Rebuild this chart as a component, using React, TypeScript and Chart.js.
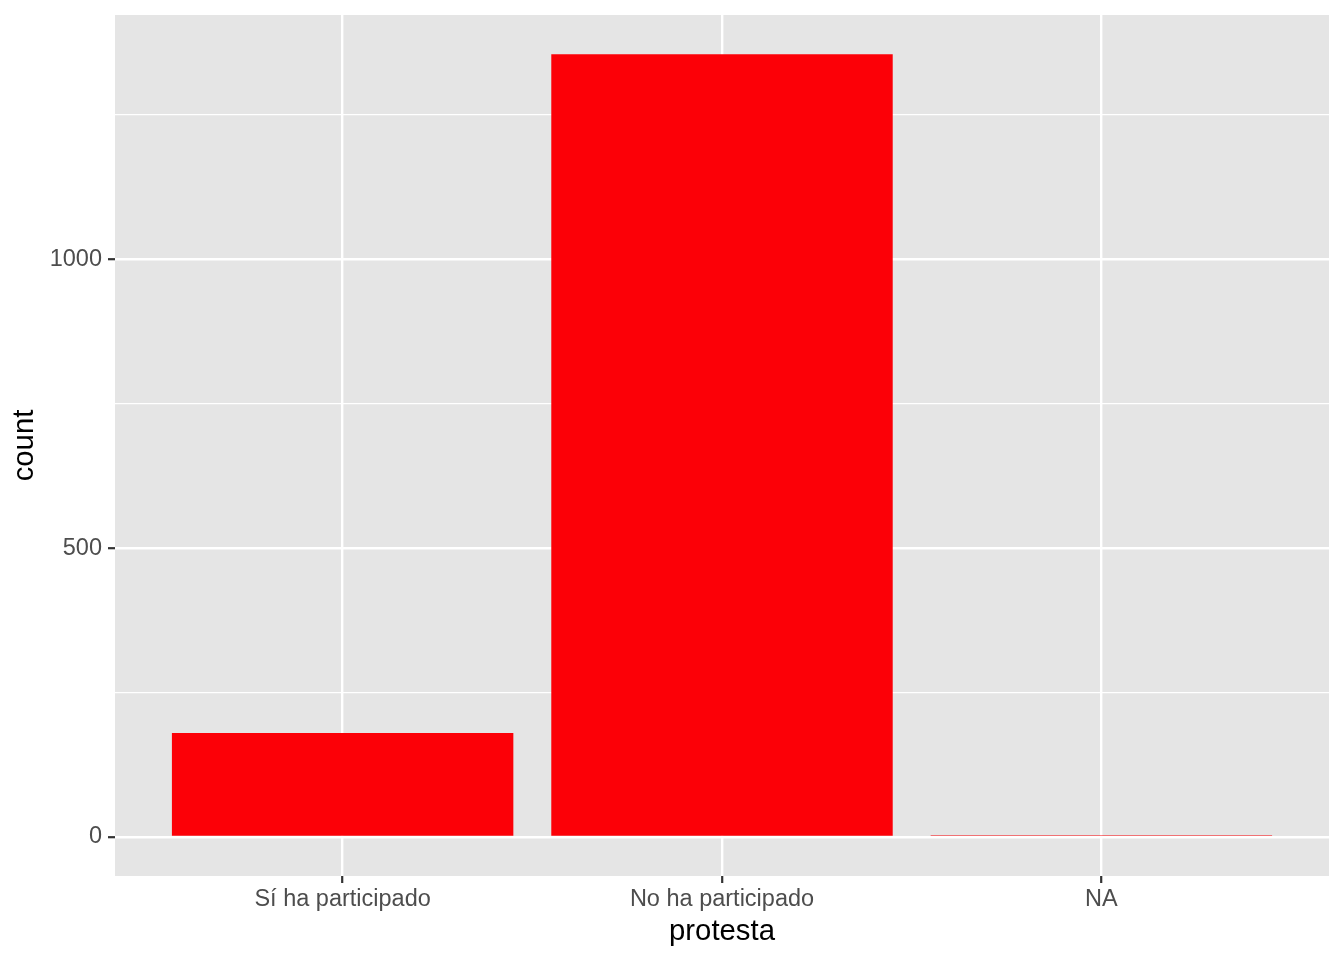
import React, { useEffect, useRef } from "react";
import { Chart, registerables } from "chart.js";

Chart.register(...registerables);

const categories = ["Sí ha participado", "No ha participado", "NA"];
const counts = [180, 1355, 3];
const yTickValues = [0, 250, 500, 750, 1000, 1250];
const yMajorTicks = [0, 500, 1000];
const xAxisTitle = "protesta";
const yAxisTitle = "count";

const FONT = "'Liberation Sans', Arial, Helvetica, sans-serif";
const PANEL_BG = "#E5E5E5";
const BAR_COLOR = "#FC0007";

const yMin = -67.75;
const yMax = 1422.75;

const panelBg = {
  id: "panelBg",
  beforeDraw(chart: any) {
    const { ctx, chartArea } = chart;
    ctx.save();
    ctx.fillStyle = PANEL_BG;
    ctx.fillRect(chartArea.left, chartArea.top, chartArea.right - chartArea.left, chartArea.bottom - chartArea.top);
    ctx.restore();
  },
};

export default function App() {
  const ref = useRef<HTMLCanvasElement | null>(null);

  useEffect(() => {
    document.body.style.margin = "0";
    const canvas = ref.current;
    if (!canvas) return;
    const data = categories.map((_, i) => ({ x: i + 1, y: counts[i] }));
    const chart = new Chart(canvas, {
      type: "bar",
      data: {
        datasets: [
          {
            data: data as any,
            backgroundColor: BAR_COLOR,
            borderWidth: 0,
            barPercentage: 0.9,
            categoryPercentage: 1,
          },
        ],
      },
      plugins: [panelBg],
      options: {
        animation: false,
        responsive: false,
        maintainAspectRatio: false,
        layout: { autoPadding: false, padding: { left: 0, right: 15, top: 15, bottom: 0 } },
        plugins: { legend: { display: false }, tooltip: { enabled: false } },
        scales: {
          x: {
            type: "linear",
            min: 0.4,
            max: 3.6,
            offset: false,
            afterBuildTicks: (scale: any) => {
              scale.ticks = categories.map((_, i) => ({ value: i + 1 }));
            },
            afterFit: (scale: any) => {
              scale.height = 84;
              scale.paddingLeft = 0;
              scale.paddingRight = 0;
            },
            border: { display: false },
            grid: {
              offset: false,
              color: "#FFFFFF",
              lineWidth: 2.4,
              tickColor: "#333333",
              tickLength: 7,
              tickWidth: 2.2,
            },
            ticks: {
              autoSkip: false,
              maxRotation: 0,
              padding: 2,
              color: "#4D4D4D",
              font: { family: FONT, size: 23.5 },
              callback: (v: any) => {
                const idx = Math.round(Number(v)) - 1;
                return categories[idx] ?? "";
              },
            },
            title: {
              display: true,
              text: xAxisTitle,
              color: "#000000",
              font: { family: FONT, size: 29.3, lineHeight: 1.2 },
              padding: { top: 0, bottom: 10.4 },
            },
          },
          y: {
            type: "linear",
            min: yMin,
            max: yMax,
            afterBuildTicks: (scale: any) => {
              scale.ticks = yTickValues.map((v) => ({ value: v }));
            },
            afterFit: (scale: any) => {
              scale.width = 115;
              scale.paddingTop = 0;
              scale.paddingBottom = 0;
            },
            border: { display: false },
            grid: {
              color: "#FFFFFF",
              lineWidth: (ctx: any) => (yMajorTicks.includes(ctx.tick?.value) ? 2.4 : 1.2),
              tickColor: (ctx: any) => (yMajorTicks.includes(ctx.tick?.value) ? "#333333" : "rgba(0,0,0,0)"),
              tickLength: 7,
              tickWidth: 2.2,
            },
            ticks: {
              autoSkip: false,
              padding: 6,
              color: "#4D4D4D",
              font: { family: FONT, size: 23.5 },
              callback: (v: any) => (yMajorTicks.includes(Number(v)) ? String(v) : ""),
            },
            title: {
              display: true,
              text: yAxisTitle,
              color: "#000000",
              font: { family: FONT, size: 29.3, lineHeight: 1.2 },
              padding: { top: 7.4, bottom: 0 },
            },
          },
        },
      },
    });
    return () => chart.destroy();
  }, []);

  return (
    <div style={{ position: "absolute", left: 0, top: 0, width: 1344, height: 960, background: "#FFFFFF" }}>
      <canvas ref={ref} width={1344} height={960} style={{ width: 1344, height: 960, display: "block" }} />
    </div>
  );
}
